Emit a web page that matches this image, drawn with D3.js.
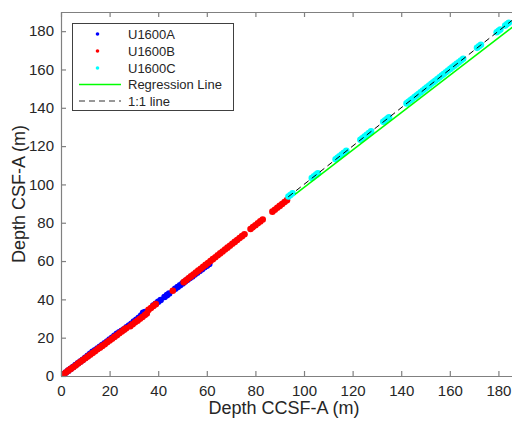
<!DOCTYPE html>
<html><head><meta charset="utf-8">
<script src="https://cdn.jsdelivr.net/npm/d3@7"></script>
<style>body{margin:0;background:#fff;} svg{display:block;font-family:"Liberation Sans",Arial,Helvetica,sans-serif;}</style>
</head><body>
<svg id="chart" width="512" height="423"></svg>
<script>
// U1600A (blue): CCSF-A depth and CSF-A depth (m)
const holeA_ccsf = [0.3,1,2,3,4,5,6,7,8,9,10,11,12,13,14,15,16,17,18,19,20,21,22,23,24,25,26,27,28,29,30,31,32,33,33.8,34.6,38,39,40,41,42.6,43.6,44.5,47,48,49,50,51,52,53,54,55,56,57,58,59,60,61];
const holeA_csf  = [0.2,0.9,1.8,2.8,3.8,4.7,5.7,6.6,7.6,8.5,9.5,10.5,11.6,12.6,13.4,14.3,15.2,16.1,17.1,18,19,20,21,22,22.8,23.6,24.4,25.4,26.3,27.3,28.4,29.4,30.4,31.6,33,33.4,36.8,37.7,38.7,39.7,41.2,42.2,43.1,45.5,46.4,47.4,48.3,49.3,50.2,51.1,52,53,53.9,54.8,55.7,56.7,57.6,58.5];
// U1600B (red)
const holeB_ccsf = [0,1,2,3,4,5,6,7,8,9,10,11,12,13,14,15,16,17,18,19,20,21,22,23,24,25,26,26.8,28.5,29.5,30.5,31.5,32.5,33.5,34.5,35.3,36,37,38,39,46,50.5,51.5,52.5,53.5,54.5,55.5,56.5,57.5,58.5,59.5,60.5,61.5,62.5,63.5,64.5,65.5,66.5,67.5,68.5,69.5,70.5,71.5,72.5,73.5,74.5,75.5,78,79,80,81,82,83,87,88,89,90,91,92,93];
const holeB_csf  = [0,0.9,1.8,2.8,3.7,4.6,5.5,6.5,7.4,8.3,9.3,10.2,11.1,12,12.9,13.9,14.8,15.7,16.6,17.6,18.5,19.4,20.4,21.3,22.3,23.2,24.2,24.9,26,27,28,28.9,29.9,30.8,31.8,32.6,34.5,35.5,36.5,37.5,44.5,49,50,51,52,53,54,55,56,57,58,59,60,61,62,63,64,65,66,67,68,69,70,71,72,73,74,76.7,77.7,78.7,79.7,80.7,81.7,85.8,86.8,87.8,88.8,89.8,90.8,91.8];
// U1600C (cyan)
const holeC_ccsf = [93.6,94.4,95.3,103.2,104.1,105,105.7,113,113.8,114.6,115.5,116.4,117.4,123.2,124,124.9,125.8,126.7,127.6,132.6,133.4,134.3,135,142.2,143,143.8,144.6,145.5,146.3,147.1,148,148.9,149.8,150.6,151.5,152.4,153.2,154,154.9,155.8,156.7,157.5,158.4,159.3,160.2,161,161.9,162.8,163.7,164.6,165.5,171.2,172,172.8,179.3,180.1,180.8,182.8,183.6,184.3];
const holeC_csf  = [93.7,94.5,95.4,103.3,104.2,105.1,105.8,113.1,113.9,114.7,115.6,116.5,117.5,123.3,124.1,125,125.9,126.8,127.7,132.7,133.5,134.4,135.1,142.3,143.1,143.9,144.7,145.6,146.4,147.2,148.1,149,149.9,150.7,151.6,152.5,153.3,154.1,155,155.9,156.8,157.6,158.5,159.4,160.3,161.1,162,162.9,163.8,164.7,165.6,171.3,172.1,172.9,179.4,180.2,180.9,182.9,183.7,184.4];
// Regression line (fit) endpoints and 1:1 line endpoints
const regression_x = [96.3, 186];
const regression_y = [94.8, 182.3];
const oneToOne = [93.5, 186];
const xTicks = [0,20,40,60,80,100,120,140,160,180];
const yTicks = [0,20,40,60,80,100,120,140,160,180];
const legendLabels = ["U1600A","U1600B","U1600C","Regression Line","1:1 line"];
const colors = {A:"#0000ff", B:"#ff0000", C:"#00ffff", reg:"#00ff00", one:"#000000"};

const svg = d3.select("#chart");
const L=61, R=513, T=12, B=376;
const x = d3.scaleLinear().domain([0,186]).range([L,R]);
const y = d3.scaleLinear().domain([0,190]).range([B,T]);

svg.append("defs").append("clipPath").attr("id","clip").append("rect")
  .attr("x",L).attr("y",T).attr("width",R-L).attr("height",B-T);
const plot = svg.append("g").attr("clip-path","url(#clip)");

function dots(xs, ys, col){
  plot.append("g").selectAll("circle").data(xs.map((v,i)=>[v,ys[i]])).join("circle")
    .attr("cx",d=>x(d[0])).attr("cy",d=>y(d[1])).attr("r",3.3).attr("fill",col);
}
dots(holeA_ccsf, holeA_csf, colors.A);
dots(holeB_ccsf, holeB_csf, colors.B);
dots(holeC_ccsf, holeC_csf, colors.C);

plot.append("line").attr("x1",x(regression_x[0])).attr("y1",y(regression_y[0]))
  .attr("x2",x(regression_x[1])).attr("y2",y(regression_y[1]))
  .attr("stroke",colors.reg).attr("stroke-width",1.5);
plot.append("line").attr("x1",x(oneToOne[0])).attr("y1",y(oneToOne[0]))
  .attr("x2",x(oneToOne[1])).attr("y2",y(oneToOne[1]))
  .attr("stroke",colors.one).attr("stroke-width",1).attr("stroke-dasharray","6,4");

// axes
const axCol="#808080", txtCol="#262626";
const gx = svg.append("g").attr("transform",`translate(0,${B})`)
  .call(d3.axisBottom(x).tickValues(xTicks).tickSizeInner(-5).tickSizeOuter(0).tickPadding(9));
const gxt = svg.append("g").attr("transform",`translate(0,${T})`)
  .call(d3.axisTop(x).tickValues(xTicks).tickSizeInner(-5).tickSizeOuter(0).tickFormat(""));
const gy = svg.append("g").attr("transform",`translate(${L},0)`)
  .call(d3.axisLeft(y).tickValues(yTicks).tickSizeInner(-5).tickSizeOuter(0).tickPadding(7));
[gx,gxt,gy].forEach(g=>{
  g.selectAll(".domain").attr("stroke",axCol).attr("stroke-width",1.2);
  g.selectAll(".tick line").attr("stroke",axCol).attr("stroke-width",1.2);
  g.selectAll(".tick text").attr("fill",txtCol).attr("font-size",15).attr("font-family","Liberation Sans, Arial, sans-serif");
});

svg.append("text").attr("x",(L+R)/2-3).attr("y",414).attr("text-anchor","middle")
  .attr("font-size",18).attr("fill",txtCol).text("Depth CCSF-A (m)");
svg.append("text").attr("transform",`translate(25,${(T+B)/2}) rotate(-90)`).attr("text-anchor","middle")
  .attr("font-size",18).attr("fill",txtCol).text("Depth CSF-A (m)");

// legend
const lg = svg.append("g");
lg.append("rect").attr("x",72.5).attr("y",23.5).attr("width",161).attr("height",87)
  .attr("fill","#fff").attr("stroke","#404040").attr("stroke-width",1);
const rowY = [34,51,68,84.5,101];
legendLabels.forEach((lab,i)=>{
  const yy=rowY[i];
  if(i<3){
    lg.append("circle").attr("cx",97.5).attr("cy",yy).attr("r",1.8).attr("fill",[colors.A,colors.B,colors.C][i]);
  } else if(i===3){
    lg.append("line").attr("x1",79).attr("x2",121).attr("y1",yy).attr("y2",yy).attr("stroke",colors.reg).attr("stroke-width",1.5);
  } else {
    lg.append("line").attr("x1",79).attr("x2",121).attr("y1",yy).attr("y2",yy).attr("stroke","#333").attr("stroke-width",1).attr("stroke-dasharray","6,4");
  }
  lg.append("text").attr("x",128).attr("y",yy+4.7).attr("font-size",13).attr("fill",txtCol).text(lab);
});
</script>
</body></html>
